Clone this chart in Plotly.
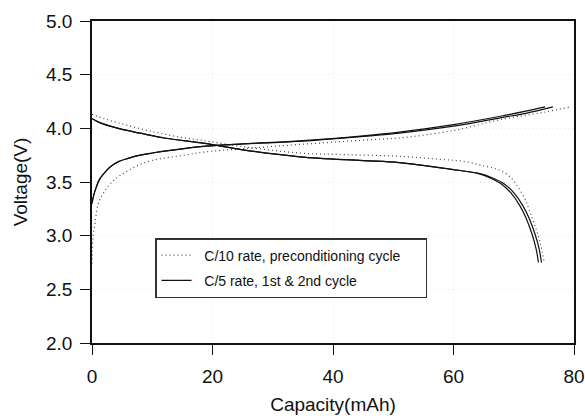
import plotly.graph_objects as go

# C/10 rate, preconditioning cycle (dotted)
c10_charge_x = [0, 0.05, 0.2, 0.5, 1.05, 2.16, 3, 4.4, 7.1, 9.9, 15.4, 18.75, 25, 34.5, 47.8, 51, 60, 67.7, 75, 79.5]
c10_charge_v = [2.74, 2.85, 3.0, 3.12, 3.30, 3.42, 3.48, 3.55, 3.64, 3.70, 3.75, 3.78, 3.81, 3.85, 3.90, 3.91, 3.98, 4.08, 4.15, 4.20]
c10_dis_x = [0, 2, 4.4, 10, 15.4, 18, 25, 34.5, 42, 51, 58, 62, 65, 67.7, 69.5, 70.5, 71.8, 72.7, 73.6, 74.4, 75.1]
c10_dis_v = [4.13, 4.09, 4.05, 3.97, 3.91, 3.89, 3.83, 3.77, 3.755, 3.74, 3.71, 3.69, 3.65, 3.61, 3.54, 3.47, 3.35, 3.22, 3.08, 2.93, 2.74]

# C/5 rate, 1st & 2nd cycle (solid)
c5_charge1_x = [0, 0.3, 0.7, 1.2, 2, 3, 4.4, 6, 8, 10, 13, 18, 25, 35, 45, 51, 60, 68, 72, 76.5]
c5_charge1_v = [3.30, 3.38, 3.45, 3.52, 3.58, 3.64, 3.69, 3.72, 3.75, 3.77, 3.795, 3.83, 3.855, 3.88, 3.925, 3.955, 4.02, 4.10, 4.14, 4.20]
c5_charge2_x = [0, 0.3, 0.7, 1.2, 2, 3, 4.4, 6, 8, 10, 13, 18, 25, 35, 45, 51, 60, 68, 72, 75.2]
c5_charge2_v = [3.30, 3.38, 3.45, 3.52, 3.58, 3.64, 3.69, 3.72, 3.75, 3.77, 3.795, 3.83, 3.855, 3.885, 3.93, 3.965, 4.035, 4.115, 4.16, 4.20]
c5_dis1_x = [0, 1, 3, 5, 8, 12, 18.75, 25, 34.5, 45, 51, 59.4, 64, 66, 68, 69.5, 71, 72, 73, 73.7, 74.1]
c5_dis1_v = [4.09, 4.06, 4.02, 3.99, 3.955, 3.91, 3.86, 3.80, 3.735, 3.70, 3.68, 3.62, 3.58, 3.54, 3.48, 3.40, 3.28, 3.17, 3.02, 2.88, 2.75]
c5_dis2_x = [0, 1, 3, 5, 8, 12, 18.75, 25, 34.5, 45, 51, 59.4, 64.2, 66.4, 68.5, 70, 71.5, 72.5, 73.5, 74.2, 74.6]
c5_dis2_v = [4.09, 4.06, 4.02, 3.99, 3.955, 3.91, 3.86, 3.80, 3.735, 3.70, 3.68, 3.62, 3.58, 3.54, 3.48, 3.40, 3.28, 3.17, 3.02, 2.88, 2.75]

x_ticks = [0, 20, 40, 60, 80]
y_ticks = [2.0, 2.5, 3.0, 3.5, 4.0, 4.5, 5.0]

legend_names = ["C/10 rate, preconditioning cycle", "C/5 rate, 1st & 2nd cycle"]

NB = "\u00a0"
fig = go.Figure()
dot = dict(color="#444444", width=1.2, dash="1px,3px")
sol = dict(color="#111111", width=1.2)

fig.add_trace(go.Scatter(x=c10_charge_x, y=c10_charge_v, mode="lines", line=dot, line_shape="spline",
                         name=NB * 2 + legend_names[0] + NB * 5, legendgroup="a", showlegend=True))
fig.add_trace(go.Scatter(x=c10_dis_x, y=c10_dis_v, mode="lines", line=dot, line_shape="spline",
                         legendgroup="a", showlegend=False))
fig.add_trace(go.Scatter(x=c5_charge1_x, y=c5_charge1_v, mode="lines", line=sol, line_shape="spline",
                         name=NB * 2 + legend_names[1], legendgroup="b", showlegend=True))
fig.add_trace(go.Scatter(x=c5_charge2_x, y=c5_charge2_v, mode="lines", line=sol, line_shape="spline",
                         legendgroup="b", showlegend=False))
fig.add_trace(go.Scatter(x=c5_dis1_x, y=c5_dis1_v, mode="lines", line=sol, line_shape="spline",
                         legendgroup="b", showlegend=False))
fig.add_trace(go.Scatter(x=c5_dis2_x, y=c5_dis2_v, mode="lines", line=sol, line_shape="spline",
                         legendgroup="b", showlegend=False))

font_family = "Liberation Sans, Arial, sans-serif"

fig.update_layout(
    width=585, height=420,
    margin=dict(l=92, r=11, t=21, b=77),
    paper_bgcolor="white", plot_bgcolor="white",
    font=dict(family=font_family, size=19, color="#111111"),
    showlegend=True,
    legend=dict(
        x=(155 - 92) / 482, y=(343 - 238) / 322, xanchor="left", yanchor="top",
        bgcolor="white", bordercolor="#333333", borderwidth=1.5,
        font=dict(size=14, color="#111111"),
        traceorder="grouped", tracegroupgap=4,
    ),
    xaxis=dict(
        range=[0, 80], tickvals=x_ticks, ticktext=[str(v) for v in x_ticks],
        showline=True, linecolor="#111111", linewidth=1.5, mirror=True,
        ticks="outside", ticklen=10, tickcolor="#111111", tickwidth=1.2,
        showgrid=True, gridcolor="#e6e6e6", griddash="1px,3px", gridwidth=1,
        zeroline=False, ticklabelstandoff=5, automargin=False,
        title=dict(text="Capacity(mAh)", standoff=12, font=dict(size=19)),
    ),
    yaxis=dict(
        range=[2.0, 5.0], tickvals=y_ticks, ticktext=[f"{v:.1f}" for v in y_ticks],
        showline=True, linecolor="#111111", linewidth=1.5, mirror=True,
        ticks="outside", ticklen=10, tickcolor="#111111", tickwidth=1.2,
        showgrid=True, gridcolor="#e6e6e6", griddash="1px,3px", gridwidth=1,
        zeroline=False, ticklabelstandoff=4, automargin=False,
        title=dict(text="Voltage(V)", standoff=13, font=dict(size=19)),
    ),
)

fig.write_html("out.html", config={"displayModeBar": False},
               post_script="document.body.style.margin='0';document.body.style.overflow='hidden';")
